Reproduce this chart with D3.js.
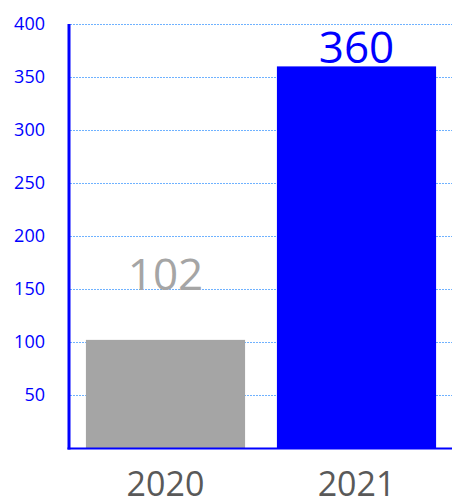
<!DOCTYPE html>
<html><head><meta charset="utf-8">
<script src="https://cdn.jsdelivr.net/npm/d3@7"></script>
<style>body{margin:0;background:#fff}svg{display:block}</style>
</head><body>
<script>
const categories = ["2020", "2021"];
const values = [102, 360];
const barColors = ["#a5a5a5", "#0000ff"];
const labelColors = ["#a5a5a5", "#0000ff"];
const yTicks = [50, 100, 150, 200, 250, 300, 350, 400];

const W = 452, H = 504;
const font = "'Open Sans', sans-serif";
const svg = d3.select("body").append("svg").attr("width", W).attr("height", H);

const x = d3.scaleBand().domain(categories).range([69, 453]).paddingInner(32 / 192).paddingOuter(17 / 192);
const y = d3.scaleLinear().domain([0, 400]).range([448, 24]);

// gridlines
svg.append("g").selectAll("line").data(yTicks).join("line")
  .attr("x1", 70).attr("x2", W)
  .attr("y1", d => Math.round(y(d)) + 0.5).attr("y2", d => Math.round(y(d)) + 0.5)
  .attr("stroke", "#6fb2ff").attr("stroke-width", 1).attr("stroke-dasharray", "2,1")
  .attr("shape-rendering", "crispEdges");

// bars
svg.append("g").selectAll("rect").data(values).join("rect")
  .attr("x", (d, i) => x(categories[i]))
  .attr("width", x.bandwidth())
  .attr("y", d => y(d))
  .attr("height", d => y(0) - y(d))
  .attr("fill", (d, i) => barColors[i]);

// value labels
svg.append("g").selectAll("text").data(values).join("text")
  .attr("x", (d, i) => x(categories[i]) + x.bandwidth() / 2)
  .attr("y", (d, i) => i === 0 ? y(d) - 50 : y(d) - 3)
  .attr("text-anchor", "middle")
  .attr("font-family", font).attr("font-size", 44)
  .attr("fill", (d, i) => labelColors[i])
  .text(d => d);

// y axis
const yAxis = d3.axisLeft(y).tickValues(yTicks).tickSize(0).tickPadding(24);
const gy = svg.append("g").attr("transform", "translate(69,0)").call(yAxis);
gy.select(".domain").remove();
gy.selectAll("text").attr("font-family", font).attr("font-size", 18).attr("fill", "#0000ff");

// x axis
const xAxis = d3.axisBottom(x).tickSize(0);
const gx = svg.append("g").attr("transform", "translate(0,448)").call(xAxis);
gx.select(".domain").remove();
gx.selectAll("text").attr("font-family", font).attr("font-size", 34).attr("fill", "#595959")
  .attr("dy", null).attr("y", 48);

// axis lines
svg.append("line").attr("x1", 69).attr("x2", 69).attr("y1", 24).attr("y2", 449.5)
  .attr("stroke", "#0000ff").attr("stroke-width", 3);
svg.append("line").attr("x1", 67.5).attr("x2", W).attr("y1", 448.5).attr("y2", 448.5)
  .attr("stroke", "#0000ff").attr("stroke-width", 2);
</script>
</body></html>
